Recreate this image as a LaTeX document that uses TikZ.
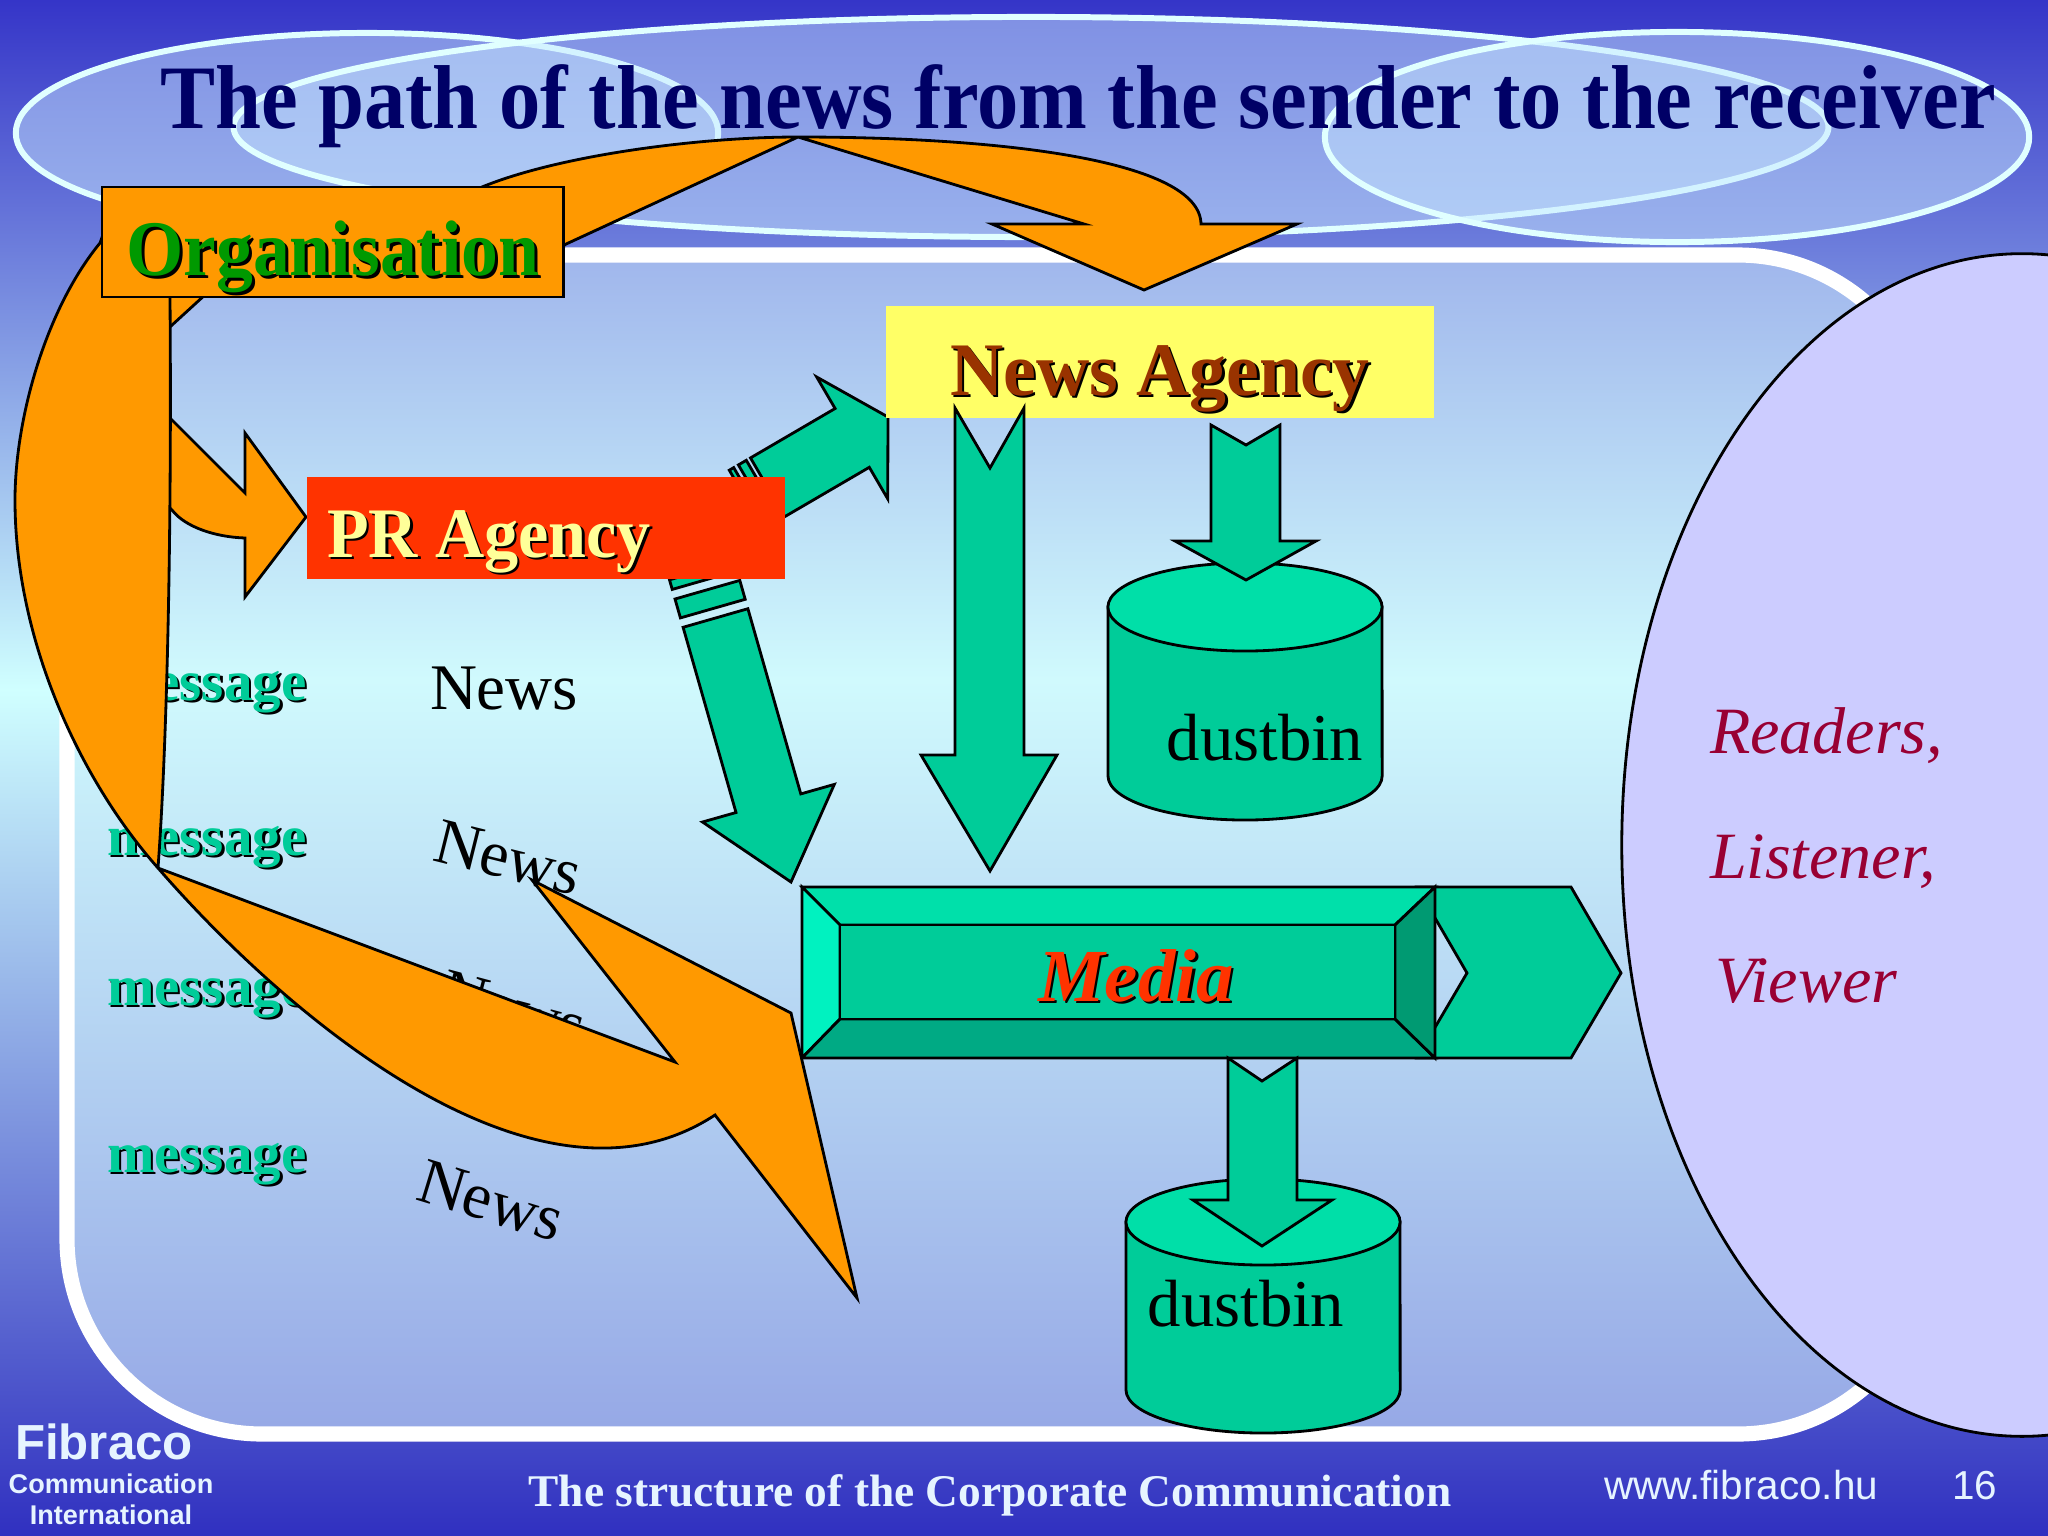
\documentclass[tikz,border=0pt]{standalone}
\usepackage{fontspec}
\setmainfont{Liberation Serif}
\newfontfamily\sansA{Liberation Sans}
\definecolor{bgTop}{HTML}{3535C8}
\definecolor{bgMid}{HTML}{D0FFFF}
\definecolor{bgBot}{HTML}{3030C0}
\definecolor{pTop}{HTML}{A0B6EC}
\definecolor{pMid}{HTML}{D0FAFD}
\definecolor{pBot}{HTML}{96A8E6}
\definecolor{ellFill}{HTML}{C8E8FF}
\definecolor{ellLine}{HTML}{E0FFFF}
\definecolor{navyT}{HTML}{000066}
\definecolor{orA}{HTML}{FF9900}
\definecolor{tealA}{HTML}{00CC99}
\definecolor{tealTop}{HTML}{00E0AA}
\definecolor{tealLeft}{HTML}{00F2C0}
\definecolor{tealBot}{HTML}{00AA84}
\definecolor{tealRight}{HTML}{009A72}
\definecolor{cylTop}{HTML}{00DFA8}
\definecolor{prRed}{HTML}{FF3300}
\definecolor{naYellow}{HTML}{FFFF66}
\definecolor{orgGreen}{HTML}{009900}
\definecolor{prText}{HTML}{FFFF99}
\definecolor{naText}{HTML}{993300}
\definecolor{mediaText}{HTML}{FF3300}
\definecolor{recvFill}{HTML}{CCCCFF}
\definecolor{recvText}{HTML}{990033}
\definecolor{footT}{HTML}{E6F4FF}
\newcommand\ffs[1]{\fontsize{#1}{#1}\selectfont}
\tikzset{
  every node/.style={inner sep=0pt, outer sep=0pt},
  orshape/.style={fill=orA, draw=black, line width=0.8pt, line join=miter},
  grshape/.style={fill=tealA, draw=black, line width=0.8pt, line join=miter},
  bevel/.style={draw=black, line width=0.8pt, line join=miter},
  decoell/.style={fill=ellFill, fill opacity=0.5, draw=ellLine, line width=1.7pt},
  msgT/.style={font=\bfseries\ffs{16.2pt}, anchor=base west},
  newsT/.style={font=\ffs{18.5pt}, text=black, anchor=base west},
  recvT/.style={font=\itshape\ffs{18.8pt}, text=recvText, anchor=base west},
  binT/.style={font=\ffs{19pt}, text=black, anchor=base},
  footS/.style={font=\sansA\bfseries, text=footT, anchor=base},
}
\begin{document}
\begin{tikzpicture}[x=0.01cm,y=-0.01cm]
\useasboundingbox (0,0) rectangle (2048,1536);
% background
\shade[top color=bgTop, bottom color=bgMid] (0,0) rectangle (2048,690);
\shade[top color=bgMid, bottom color=bgBot] (0,689) rectangle (2048,1536);
% decorative ellipses
\path[decoell] (367,133) ellipse [x radius=3.51cm, y radius=1.0cm];
\path[decoell] (1031,127) ellipse [x radius=7.97cm, y radius=1.1cm];
\path[decoell] (1677,137) ellipse [x radius=3.52cm, y radius=1.05cm];
% title
\node[anchor=base, text=navyT, font=\bfseries\ffs{25.8pt}] (title) at (1078,128)
  {\scalebox{0.91}[1]{The path of the news from the sender to the receiver}};
% panel
\begin{scope}
  \clip[rounded corners=1.95cm] (67,255) rectangle (1933,1434);
  \shade[top color=pTop, bottom color=pMid] (0,255) rectangle (2048,680);
  \shade[top color=pMid, bottom color=pBot] (0,679) rectangle (2048,1434);
\end{scope}
\draw[white, line width=4.3pt, rounded corners=1.95cm] (67,255) rectangle (1933,1434);
% receiver ellipse
\filldraw[fill=recvFill, draw=black, line width=0.8pt] (2022,845) ellipse [x radius=4cm, y radius=5.91cm];
\node[recvT] (readers) at (1710,753) {Readers,};
\node[recvT] (listener) at (1710,878) {Listener,};
\node[recvT] (viewer) at (1715,1002) {Viewer};
% message / News rows
\node[msgT, text=black] (msgsha) at (109.5,702.5) {message};
\node[msgT, text=tealA] (msga) at (107,700) {message};
\node[msgT, text=black] (msgshb) at (109.5,857.5) {message};
\node[msgT, text=tealA] (msgb) at (107,855) {message};
\node[msgT, text=black] (msgshc) at (109.5,1007.5) {message};
\node[msgT, text=tealA] (msgc) at (107,1005) {message};
\node[msgT, text=black] (msgshd) at (109.5,1174.5) {message};
\node[msgT, text=tealA] (msgd) at (107,1172) {message};
\node[newsT] (newsa) at (430,709) {News};
\node[newsT, rotate=-14] (newsb) at (431,860) {News};
\node[newsT, rotate=-15] (newsc) at (436,1010) {News};
\node[newsT, rotate=-17] (newsd) at (414,1199) {News};
% green striped arrow PR -> News Agency
\filldraw[grshape] (750.5,457.9) -- (835.1,408.5) -- (816.7,377) -- (888,417) -- (887.7,498.8) -- (869.3,467.3) -- (784.7,516.7) -- cycle;
\filldraw[grshape] (746.3,460.3) -- (738.4,464.9) -- (772.6,523.7) -- (780.5,519.1) -- cycle;
\filldraw[grshape] (733.7,467.6) -- (729.3,470.2) -- (763.5,529) -- (767.9,526.4) -- cycle;
% green striped arrow PR -> Media
\filldraw[grshape] (683.1,627.3) -- (747.9,608.7) -- (800.8,793.9) -- (834.3,784.4) -- (791,882) -- (702.5,822) -- (736,812.5) -- cycle;
\filldraw[grshape] (680.4,617.9) -- (745.2,599.3) -- (739.8,580.4) -- (675,599) -- cycle;
\filldraw[grshape] (672.25,589.4) -- (737.05,570.8) -- (734.3,561.2) -- (669.5,579.8) -- cycle;
% News Agency box
\node[fill=naYellow, minimum width=5.48cm, minimum height=1.12cm, anchor=north west] (nabox) at (886,306) {};
\node[anchor=base, text=black, font=\bfseries\ffs{21.5pt}] (natextsh) at (1162.5,397.5) {\scalebox{0.975}[1]{News Agency}};
\node[anchor=base, text=naText, font=\bfseries\ffs{21.5pt}] (natext) at (1160,395) {\scalebox{0.975}[1]{News Agency}};
% dustbin 1
\filldraw[grshape] (1108,607) -- (1108,776) arc[start angle=180, end angle=360, x radius=1.37cm, y radius=0.44cm] -- (1382,607) -- cycle;
\filldraw[fill=cylTop, draw=black, line width=0.8pt] (1245,607) ellipse [x radius=1.37cm, y radius=0.44cm];
\node[binT] (bin1) at (1265,760) {dustbin};
% arrows from News Agency
\filldraw[grshape] (955,408) -- (990,468) -- (1024,408) -- (1024,755) -- (1057,755) -- (990,871) -- (921,755) -- (955,755) -- cycle;
\filldraw[grshape] (1211,425) -- (1246,445) -- (1280,425) -- (1280,541) -- (1316,541) -- (1246,580) -- (1175,541) -- (1211,541) -- cycle;
% Media
\filldraw[grshape] (1417,887) -- (1571,887) -- (1621,973) -- (1571,1058) -- (1417,1058) -- (1467,973) -- cycle;
\filldraw[bevel, fill=tealTop] (802,887) -- (1435,887) -- (1395,925) -- (840,925) -- cycle;
\filldraw[bevel, fill=tealLeft] (802,887) -- (840,925) -- (840,1019) -- (802,1058) -- cycle;
\filldraw[bevel, fill=tealBot] (802,1058) -- (840,1019) -- (1395,1019) -- (1435,1058) -- cycle;
\filldraw[bevel, fill=tealRight] (1435,887) -- (1395,925) -- (1395,1019) -- (1435,1058) -- cycle;
\filldraw[bevel, fill=tealA] (840,925) rectangle (1395,1019);
\node[anchor=base, text=black, font=\bfseries\itshape\ffs{21.3pt}] (mediash) at (1138.5,1003.5) {Media};
\node[anchor=base, text=mediaText, font=\bfseries\itshape\ffs{21.3pt}] (media) at (1136,1001) {Media};
% dustbin 2
\filldraw[grshape] (1126,1222) -- (1126,1390) arc[start angle=180, end angle=360, x radius=1.37cm, y radius=0.43cm] -- (1400,1222) -- cycle;
\filldraw[fill=cylTop, draw=black, line width=0.8pt] (1263,1222) ellipse [x radius=1.37cm, y radius=0.43cm];
\node[binT] (bin2) at (1246,1326) {dustbin};
\filldraw[grshape] (1228,1058) -- (1262,1081) -- (1297,1058) -- (1297,1200) -- (1332,1200) -- (1262,1246) -- (1193,1200) -- (1228,1200) -- cycle;
% orange: top arc arrow
\filldraw[orshape] (171,326) -- (230,272) -- (470,192) -- (482,187)
  .. controls (560,155) and (700,137) .. (798,137)
  .. controls (1000,137) and (1200,160) .. (1201,224)
  -- (1297,224) -- (1144,290) -- (992,224) -- (1084,224) -- (798,137) -- (564,245) -- (556,292) -- (150,292) -- (150,345) -- cycle;
% orange: arrow to PR agency
\filldraw[orshape] (150,400) -- (172,420) -- (245,493) -- (245,433) -- (306,517) -- (245,597) -- (245,538) .. controls (215,537) and (185,527) .. (172,510) -- (150,490) -- cycle;
% orange: big left arrow
\filldraw[orshape] (150,210) -- (104,232) -- (100,243)
  .. controls (45,310) and (15,420) .. (15,500)
  .. controls (15,640) and (80,780) .. (158,868)
  .. controls (290,1020) and (540,1230) .. (715,1115)
  -- (857,1298) -- (791,1013) -- (532,880) -- (675,1062) -- (158,868)
  .. controls (166,760) and (172,560) .. (170,297) -- (170,230) -- cycle;
% Organisation box
\node[fill=orA, draw=black, line width=0.8pt, minimum width=4.61cm, minimum height=1.1cm, anchor=north west] (orgbox) at (102,187) {};
\node[anchor=base, text=black, font=\bfseries\ffs{22.4pt}] (orgsh) at (336,278) {\scalebox{0.935}[1]{Organisation}};
\node[anchor=base, text=orgGreen, font=\bfseries\ffs{22.4pt}] (org) at (333,275) {\scalebox{0.935}[1]{Organisation}};
% PR Agency box
\node[fill=prRed, minimum width=4.78cm, minimum height=1.02cm, anchor=north west] (prbox) at (307,477) {};
\node[anchor=base, text=black, font=\bfseries\ffs{20.2pt}] (prsh) at (491.5,559.5) {\scalebox{0.96}[1]{PR Agency}};
\node[anchor=base, text=prText, font=\bfseries\ffs{20.2pt}] (pr) at (489,557) {\scalebox{0.96}[1]{PR Agency}};
% footer
\node[footS, font=\sansA\bfseries\ffs{14pt}] (fibraco) at (104,1459) {Fibraco};
\node[footS, font=\sansA\bfseries\ffs{7.7pt}] (comm) at (111,1493) {Communication};
\node[footS, font=\sansA\bfseries\ffs{7.7pt}] (intl) at (111,1524) {International};
\node[anchor=base, text=footT, font=\bfseries\ffs{12.9pt}] (footer) at (990,1506) {The structure of the Corporate Communication};
\node[anchor=base west, text=footT, font=\sansA\ffs{11.5pt}] (www) at (1604,1499) {www.fibraco.hu};
\node[anchor=base west, text=footT, font=\sansA\ffs{11.5pt}] (page) at (1952,1499) {16};
\end{tikzpicture}
\end{document}
